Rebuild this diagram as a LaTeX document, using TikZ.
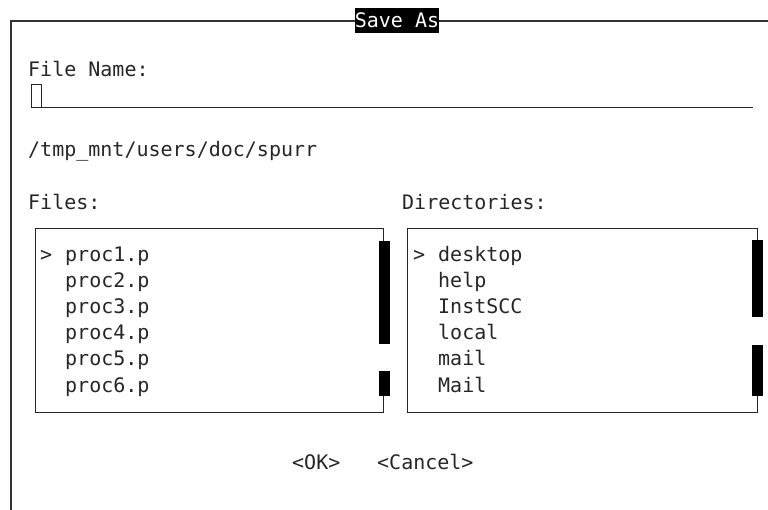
\documentclass[tikz,border=0pt]{standalone}
\usepackage{fontspec}
\setmonofont{DejaVu Sans Mono}
\begin{document}
\begin{tikzpicture}[x=1pt,y=-1pt,
  lbl/.style={anchor=base west,inner sep=0pt,font=\ttfamily\fontsize{20}{24}\selectfont,text=black!85},
  frame/.style={line width=1.3pt,draw=black!80},
  boxline/.style={line width=1pt,draw=black!85},
  thumb/.style={fill=black}]
\useasboundingbox (0,0) rectangle (768,510);
% outer frame
\draw[frame] (11,510) -- (11,21) -- (355,21);
\draw[frame] (439,21) -- (768,21);
\fill (355,8) rectangle (439,33);
\node[lbl,text=white,anchor=base] (title) at (397,28) {Save As};
% file name
\node[lbl] (fname) at (28,77) {File Name:};
\draw[boxline] (31,108) rectangle (41,85);
\coordinate (ul1) at (31,108);
\coordinate (ul2) at (753,108);
\draw[boxline] (ul1) -- (ul2);
\node[lbl] (path) at (28,157) {/tmp\_mnt/users/doc/spurr};
\node[lbl] (files) at (28,210) {Files:};
\node[lbl] (dirs) at (402,210) {Directories:};
% files box
\draw[boxline] (383,241) -- (383,229) -- (35,229) -- (35,412) -- (383,412) -- (383,396);
\fill[thumb] (378.5,241) rectangle (389.5,344);
\fill[thumb] (378.5,371) rectangle (389.5,396);
\node[lbl] (fsel) at (40,262) {>};
\node[lbl] (f1) at (65,262) {proc1.p};
\node[lbl] (f2) at (65,288) {proc2.p};
\node[lbl] (f3) at (65,314) {proc3.p};
\node[lbl] (f4) at (65,340) {proc4.p};
\node[lbl] (f5) at (65,366) {proc5.p};
\node[lbl] (f6) at (65,392) {proc6.p};
% directories box
\draw[boxline] (757,240) -- (757,229) -- (407,229) -- (407,412) -- (757,412) -- (757,396);
\fill[thumb] (751.5,240) rectangle (762.5,317);
\fill[thumb] (751.5,345) rectangle (762.5,396);
\node[lbl] (dsel) at (413,262) {>};
\node[lbl] (d1) at (438,262) {desktop};
\node[lbl] (d2) at (438,288) {help};
\node[lbl] (d3) at (438,314) {InstSCC};
\node[lbl] (d4) at (438,340) {local};
\node[lbl] (d5) at (438,366) {mail};
\node[lbl] (d6) at (438,392) {Mail};
% buttons
\node[lbl] (ok) at (292,469) {<OK>};
\node[lbl] (cancel) at (377,469) {<Cancel>};
\end{tikzpicture}
\end{document}
